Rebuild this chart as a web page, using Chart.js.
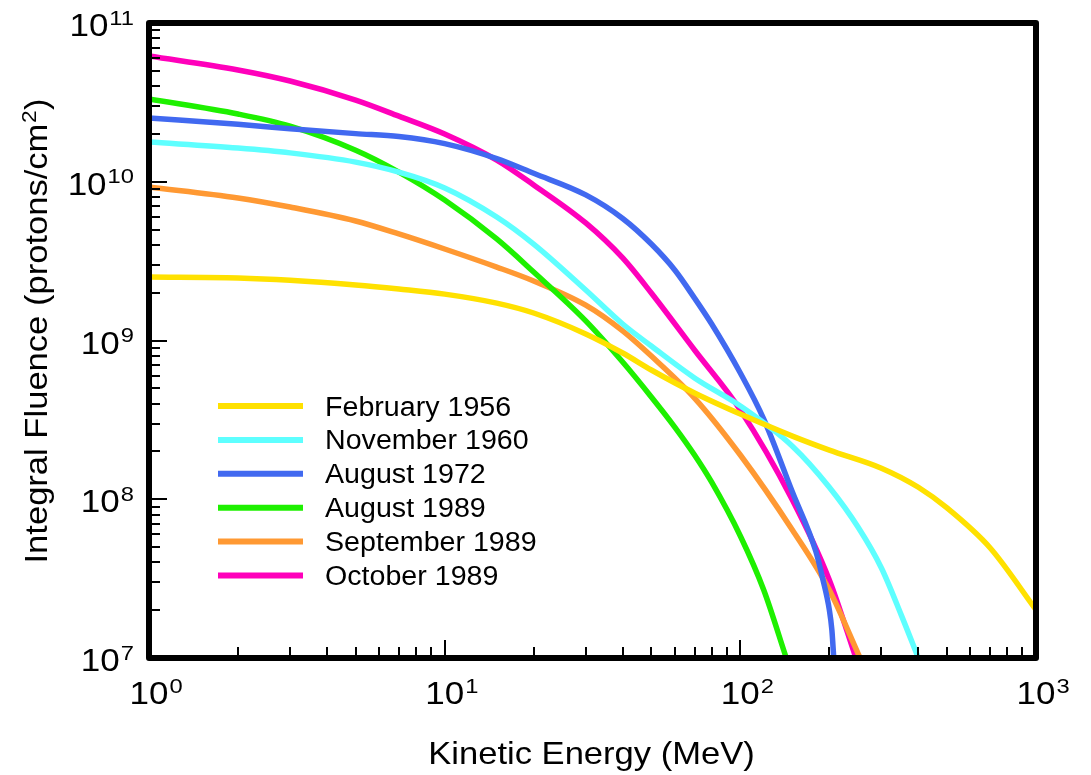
<!DOCTYPE html>
<html><head><meta charset="utf-8">
<script src="https://cdn.jsdelivr.net/npm/chart.js@4.4.0/dist/chart.umd.min.js"></script>
<style>html,body{margin:0;padding:0;background:#fff;}canvas{display:block;}</style>
</head><body>
<canvas id="c" width="1091" height="775"></canvas>
<script>
// ---- data (energy in MeV, integral fluence in protons/cm^2) ----
const seriesNames = ['February 1956','November 1960','August 1972','August 1989','September 1989','October 1989'];
const seriesColors = ['#FFE100','#5EFFFF','#4169F0','#1EF000','#FF9933','#FF00BB'];

const energyFeb1956 = [1,2,3,5,7,10,15,20,30,40,50,70,100,150,200,300,400,500,700,1000];
const fluenceFeb1956 = [2.51e9,2.48e9,2.40e9,2.24e9,2.11e9,1.96e9,1.72e9,1.49e9,1.10e9,8.34e8,6.52e8,4.67e8,3.44e8,2.50e8,2.04e8,1.57e8,1.19e8,8.81e7,4.93e7,2.01e7];

const energyNov1960 = [1,2,3,5,7,10,15,20,30,40,50,70,100,150,200,250,300,350,400];
const fluenceNov1960 = [1.78e10,1.63e10,1.52e10,1.33e10,1.15e10,9.14e9,6.00e9,4.05e9,2.08e9,1.27e9,9.23e8,5.81e8,3.87e8,2.16e8,1.19e8,6.68e7,3.69e7,1.87e7,1.0e7];

const energyAug1972 = [1,2,3,5,7,10,15,20,30,40,50,60,70,80,100,120,150,180,190,200,204,207];
const fluenceAug1972 = [2.52e10,2.30e10,2.16e10,2.01e10,1.93e10,1.74e10,1.40e10,1.13e10,8.26e9,5.87e9,4.05e9,2.78e9,1.85e9,1.27e9,6.24e8,3.20e8,1.11e8,4.70e7,3.15e7,2.01e7,1.50e7,1.0e7];

const energyAug1989 = [1,2,3,5,7,10,15,20,30,40,50,60,70,80,100,120,143];
const fluenceAug1989 = [3.32e10,2.67e10,2.24e10,1.58e10,1.15e10,7.67e9,4.36e9,2.70e9,1.33e9,7.32e8,4.41e8,2.85e8,1.90e8,1.28e8,5.87e7,2.68e7,1.0e7];

const energySep1989 = [1,2,3,5,7,10,15,20,30,40,50,70,100,150,200,254];
const fluenceSep1989 = [9.27e9,7.91e9,6.93e9,5.66e9,4.69e9,3.77e9,2.90e9,2.37e9,1.67e9,1.15e9,7.98e8,4.34e8,1.90e8,6.40e7,2.68e7,1.0e7];

const energyOct1989 = [1,2,3,5,7,10,15,20,30,40,50,70,100,150,200,246];
const fluenceOct1989 = [6.20e10,5.06e10,4.31e10,3.27e10,2.59e10,2.00e10,1.37e10,9.55e9,5.50e9,3.31e9,1.99e9,8.71e8,3.65e8,9.89e7,3.10e7,1.0e7];

const xTickExponents = [0,1,2,3];
const yTickExponents = [7,8,9,10,11];
const xAxisTitle = 'Kinetic Energy (MeV)';
const yAxisTitle = 'Integral Fluence (protons/cm';
const yAxisTitleSup = '2';
const yAxisTitleEnd = ')';

// ---- build datasets ----
const energies = [energyFeb1956,energyNov1960,energyAug1972,energyAug1989,energySep1989,energyOct1989];
const fluences = [fluenceFeb1956,fluenceNov1960,fluenceAug1972,fluenceAug1989,fluenceSep1989,fluenceOct1989];
const datasets = seriesNames.map((name,i)=>({
  label: name,
  data: energies[i].map((e,j)=>({x:e,y:fluences[i][j]})),
  borderColor: seriesColors[i],
  backgroundColor: seriesColors[i],
  borderWidth: 5.5,
  pointRadius: 0,
  fill: false,
  cubicInterpolationMode: 'monotone',
  borderCapStyle: 'butt',
  borderJoinStyle: 'round'
}));

const FONT = '"Liberation Sans", Arial, Helvetica, sans-serif';

function stretchedText(ctx, text, x, y, sx, align){
  ctx.save();
  ctx.translate(x, y);
  ctx.scale(sx, 1);
  ctx.textAlign = align || 'left';
  ctx.textBaseline = 'alphabetic';
  ctx.fillText(text, 0, 0);
  ctx.restore();
}

const decor = {
  id: 'decor',
  afterDatasetsDraw(chart){
    const ctx = chart.ctx;
    const a = chart.chartArea;
    const xs = chart.scales.x, ys = chart.scales.y;
    ctx.save();
    ctx.strokeStyle = '#000';
    ctx.fillStyle = '#000';
    // ticks (inward)
    ctx.lineWidth = 2;
    ctx.lineCap = 'butt';
    for (let k = xTickExponents[0]; k < xTickExponents[xTickExponents.length-1]; k++){
      for (let m = 1; m <= 9; m++){
        if (m === 1 && k === xTickExponents[0]) continue;
        const px = Math.round(xs.getPixelForValue(m*Math.pow(10,k)));
        const len = m === 1 ? 18 : 11;
        ctx.beginPath(); ctx.moveTo(px, a.bottom); ctx.lineTo(px, a.bottom - len); ctx.stroke();
      }
    }
    for (let k = yTickExponents[0]; k < yTickExponents[yTickExponents.length-1]; k++){
      for (let m = 1; m <= 9; m++){
        if (m === 1 && k === yTickExponents[0]) continue;
        const py = Math.round(ys.getPixelForValue(m*Math.pow(10,k)));
        const len = m === 1 ? 18 : 11;
        ctx.beginPath(); ctx.moveTo(a.left, py); ctx.lineTo(a.left + len, py); ctx.stroke();
      }
    }
    // frame
    ctx.lineWidth = 6;
    ctx.lineJoin = 'round';
    ctx.strokeRect(a.left, a.top, a.right - a.left, a.bottom - a.top);

    const SX = 1.13;
    // x tick labels
    xTickExponents.forEach(e=>{
      const px = xs.getPixelForValue(Math.pow(10,e));
      ctx.font = '31px ' + FONT;
      const w10 = ctx.measureText('10').width * SX;
      stretchedText(ctx, '10', px, a.bottom + 46, SX, 'center');
      ctx.font = '21px ' + FONT;
      stretchedText(ctx, String(e), px + w10/2 + 1, a.bottom + 35, SX, 'left');
    });
    // y tick labels (right aligned)
    const rightEdge = 134;
    yTickExponents.forEach(e=>{
      const py = ys.getPixelForValue(Math.pow(10,e));
      ctx.font = '21px ' + FONT;
      const ws = ctx.measureText(String(e)).width * SX;
      stretchedText(ctx, String(e), rightEdge - ws, py + 1.5, SX, 'left');
      ctx.font = '31px ' + FONT;
      stretchedText(ctx, '10', rightEdge - ws - 1, py + 13, SX, 'right');
    });
    // x axis title
    ctx.font = '32px ' + FONT;
    stretchedText(ctx, xAxisTitle, (a.left + a.right)/2 - 1, 764, 1.08, 'center');
    // y axis title (rotated)
    ctx.save();
    ctx.translate(47, 331);
    ctx.rotate(-Math.PI/2);
    const TS = 1.08;
    ctx.font = '32px ' + FONT;
    const w1 = ctx.measureText(yAxisTitle).width * TS;
    const w3 = ctx.measureText(yAxisTitleEnd).width * TS;
    ctx.font = '21px ' + FONT;
    const w2 = ctx.measureText(yAxisTitleSup).width * TS;
    const total = w1 + w2 + w3 + 1;
    let cx = -total/2;
    ctx.font = '32px ' + FONT;
    stretchedText(ctx, yAxisTitle, cx, 0, TS, 'left');
    cx += w1 + 0.5;
    ctx.font = '21px ' + FONT;
    stretchedText(ctx, yAxisTitleSup, cx, -11, TS, 'left');
    cx += w2 + 0.5;
    ctx.font = '32px ' + FONT;
    stretchedText(ctx, yAxisTitleEnd, cx, 0, TS, 'left');
    ctx.restore();

    // legend
    chart.data.datasets.forEach((ds,i)=>{
      const y = 406 + i*33.9;
      ctx.strokeStyle = ds.borderColor;
      ctx.lineWidth = 6;
      ctx.lineCap = 'butt';
      ctx.beginPath(); ctx.moveTo(218, y); ctx.lineTo(303, y); ctx.stroke();
      ctx.fillStyle = '#000';
      ctx.font = '27px ' + FONT;
      stretchedText(ctx, ds.label, 325, y + 9.5, 1.06, 'left');
    });
    ctx.restore();
  }
};

new Chart(document.getElementById('c'), {
  type: 'line',
  data: { datasets },
  options: {
    responsive: false,
    animation: false,
    devicePixelRatio: 1,
    layout: { padding: { left: 149, right: 55, top: 23, bottom: 117 } },
    plugins: { legend: { display: false }, tooltip: { enabled: false } },
    scales: {
      x: { type: 'logarithmic', min: Math.pow(10, xTickExponents[0]), max: Math.pow(10, xTickExponents[xTickExponents.length-1]), display: false },
      y: { type: 'logarithmic', min: Math.pow(10, yTickExponents[0]), max: Math.pow(10, yTickExponents[yTickExponents.length-1]), display: false }
    }
  },
  plugins: [decor]
});
</script>
</body></html>
